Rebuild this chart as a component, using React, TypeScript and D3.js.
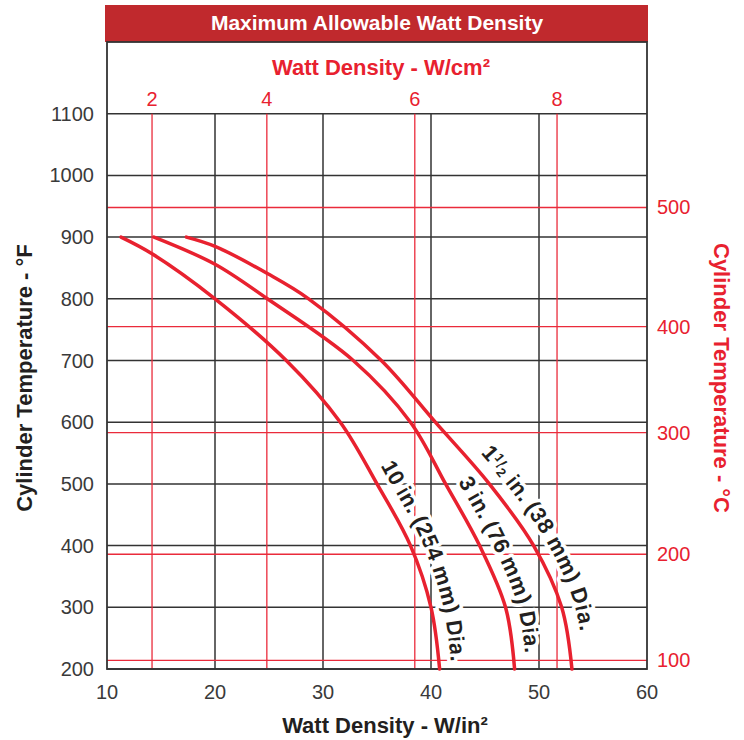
import React, { useEffect, useRef } from "react";
import * as d3 from "d3";

// bottom / left axis ticks
const wattTicks = [10, 20, 30, 40, 50, 60];
const tempTicksF = [200, 300, 400, 500, 600, 700, 800, 900, 1000, 1100];

// secondary axes (positions, in W/in² and °F)
const cmLabels = ["2", "4", "6", "8"];
const cmPositions = [14.17, 24.8, 38.5, 51.67];
const celsiusLabels = ["500", "400", "300", "200", "100"];
const celsiusPositions = [948, 755, 583, 386, 214];

// curves: watt density (W/in²) vs cylinder temperature (°F)
const dia10W = [11.3, 14.17, 20.0, 26.6, 31.6, 35.0, 38.1, 40.0, 40.8];
const dia10F = [900, 873, 800, 700, 600, 500, 400, 300, 200];
const dia3W = [14.35, 20.0, 24.85, 32.8, 38.1, 41.35, 44.5, 46.9, 47.74];
const dia3F = [900, 856, 800, 700, 600, 500, 400, 300, 200];
const dia15W = [17.35, 20.0, 24.85, 28.67, 35.4, 40.4, 45.4, 49.5, 52.1, 53.05];
const dia15F = [900, 885, 841, 800, 700, 600, 500, 400, 300, 200];

const RED = "#e8212f";
const GRID_RED = "#ea2b3b";
const DARK = "#333333";
const FONT = "'Liberation Sans', Arial, sans-serif";

const App = () => {
  const svgRef = useRef<SVGSVGElement>(null);

  useEffect(() => {
    document.body.style.margin = "0";
    const width = 744;
    const height = 740;
    const left = 107;
    const right = 647;
    const top = 113.7;
    const bottom = 669;

    const svg = d3.select(svgRef.current).attr("width", width).attr("height", height);
    svg.selectAll("*").remove();

    const x = d3.scaleLinear().domain([10, 60]).range([left, right]);
    const y = d3.scaleLinear().domain([200, 1100]).range([bottom, top]);

    // title bar
    svg.append("rect").attr("x", 105).attr("y", 5).attr("width", 543).attr("height", 37).attr("fill", "#c0292d");
    svg
      .append("text")
      .attr("x", 377)
      .attr("y", 30)
      .attr("text-anchor", "middle")
      .attr("fill", "#fff")
      .style("font", `bold 21px ${FONT}`)
      .text("Maximum Allowable Watt Density");

    // black grid
    const grid = svg.append("g").attr("stroke", DARK).attr("stroke-width", 1.5);
    grid
      .selectAll("line.v")
      .data(wattTicks.slice(1, -1))
      .join("line")
      .attr("x1", (d) => x(d))
      .attr("x2", (d) => x(d))
      .attr("y1", top)
      .attr("y2", bottom);
    grid
      .selectAll("line.h")
      .data(tempTicksF)
      .join("line")
      .attr("x1", left)
      .attr("x2", right)
      .attr("y1", (d) => y(d))
      .attr("y2", (d) => y(d));

    // red grid (W/cm² and °C)
    const rgrid = svg.append("g").attr("stroke", GRID_RED).attr("stroke-width", 1.3);
    rgrid
      .selectAll("line.v")
      .data(cmPositions)
      .join("line")
      .attr("x1", (d) => x(d))
      .attr("x2", (d) => x(d))
      .attr("y1", top)
      .attr("y2", bottom);
    rgrid
      .selectAll("line.h")
      .data(celsiusPositions)
      .join("line")
      .attr("x1", left)
      .attr("x2", right)
      .attr("y1", (d) => y(d))
      .attr("y2", (d) => y(d));

    // frame
    svg
      .append("rect")
      .attr("x", left)
      .attr("y", 42)
      .attr("width", right - left)
      .attr("height", bottom - 42)
      .attr("fill", "none")
      .attr("stroke", DARK)
      .attr("stroke-width", 1.8);

    // tick labels
    const tickFont = `20px ${FONT}`;
    svg
      .append("g")
      .selectAll("text")
      .data(tempTicksF)
      .join("text")
      .attr("x", 94)
      .attr("y", (d) => y(d) + 7)
      .attr("text-anchor", "end")
      .attr("fill", "#3a3a3a")
      .style("font", tickFont)
      .text((d) => d);
    svg
      .append("g")
      .selectAll("text")
      .data(wattTicks)
      .join("text")
      .attr("x", (d) => x(d))
      .attr("y", 699)
      .attr("text-anchor", "middle")
      .attr("fill", "#3a3a3a")
      .style("font", tickFont)
      .text((d) => d);
    svg
      .append("g")
      .selectAll("text")
      .data(cmPositions)
      .join("text")
      .attr("x", (d) => x(d))
      .attr("y", 106)
      .attr("text-anchor", "middle")
      .attr("fill", RED)
      .style("font", tickFont)
      .text((d, i) => cmLabels[i]);
    svg
      .append("g")
      .selectAll("text")
      .data(celsiusPositions)
      .join("text")
      .attr("x", 657)
      .attr("y", (d) => y(d) + 7)
      .attr("fill", RED)
      .style("font", tickFont)
      .text((d, i) => celsiusLabels[i]);

    // axis titles
    const titleFont = `bold 22px ${FONT}`;
    svg
      .append("text")
      .attr("x", 385)
      .attr("y", 733)
      .attr("text-anchor", "middle")
      .attr("fill", "#231f20")
      .style("font", titleFont)
      .text("Watt Density - W/in²");
    svg
      .append("text")
      .attr("x", 381)
      .attr("y", 75)
      .attr("text-anchor", "middle")
      .attr("fill", RED)
      .style("font", titleFont)
      .text("Watt Density - W/cm²");
    svg
      .append("text")
      .attr("transform", "translate(32, 378) rotate(-90)")
      .attr("text-anchor", "middle")
      .attr("fill", "#231f20")
      .style("font", titleFont)
      .text("Cylinder Temperature - °F");
    svg
      .append("text")
      .attr("transform", "translate(714, 378) rotate(90)")
      .attr("text-anchor", "middle")
      .attr("fill", RED)
      .style("font", titleFont)
      .text("Cylinder Temperature - °C");

    // curves
    const curves = [
      { id: "c10", w: dia10W, f: dia10F, startF: 520, dy: -12 },
      { id: "c3", w: dia3W, f: dia3F, startF: 494, dy: -12 },
      { id: "c15", w: dia15W, f: dia15F, startF: 536, dy: -13 },
    ];
    const pathFor = (c: { w: number[]; f: number[] }) =>
      d3
        .line<number>()
        .x((v) => x(v))
        .y((v, i) => y(c.f[i]))
        .curve(d3.curveCatmullRom.alpha(0.5))(c.w);

    const defs = svg.append("defs");
    curves.forEach((c) => {
      defs.append("path").attr("id", c.id).attr("d", pathFor(c));
    });

    const offsetAt = (node: SVGPathElement, targetY: number) => {
      let lo = 0;
      let hi = node.getTotalLength();
      for (let k = 0; k < 40; k++) {
        const mid = (lo + hi) / 2;
        if (node.getPointAtLength(mid).y < targetY) lo = mid;
        else hi = mid;
      }
      return lo;
    };

    const labelFont = `bold 22px ${FONT}`;
    curves.forEach((c) => {
      const node = svg.select<SVGPathElement>(`#${c.id}`).node()!;
      const off = offsetAt(node, y(c.startF));
      const t = svg
        .append("text")
        .attr("fill", "#231f20")
        .attr("stroke", "#fff")
        .attr("stroke-width", 7)
        .attr("stroke-linejoin", "round")
        .attr("paint-order", "stroke")
        .style("font", labelFont)
        .attr("dy", c.dy);
      const tp = t.append("textPath").attr("href", `#${c.id}`).attr("startOffset", off);
      if (c.id === "c10") tp.text("10 in. (254 mm) Dia.");
      if (c.id === "c3") tp.text("3 in. (76 mm) Dia.");
      if (c.id === "c15") {
        tp.append("tspan").text("1");
        tp.append("tspan").attr("font-size", 13).attr("dy", -7).text("1");
        tp.append("tspan").attr("font-size", 16).attr("dy", 4).text("/");
        tp.append("tspan").attr("font-size", 13).attr("dy", 4).text("2");
        tp.append("tspan").attr("font-size", 22).attr("dy", -1).text(" in. (38 mm) Dia.");
      }
    });

    svg
      .append("g")
      .selectAll("path")
      .data(curves)
      .join("path")
      .attr("fill", "none")
      .attr("stroke", RED)
      .attr("stroke-width", 3.5)
      .attr("stroke-linecap", "round")
      .attr("d", (c) => pathFor(c));
  }, []);

  return (
    <div>
      <svg ref={svgRef}></svg>
    </div>
  );
};

export default App;
